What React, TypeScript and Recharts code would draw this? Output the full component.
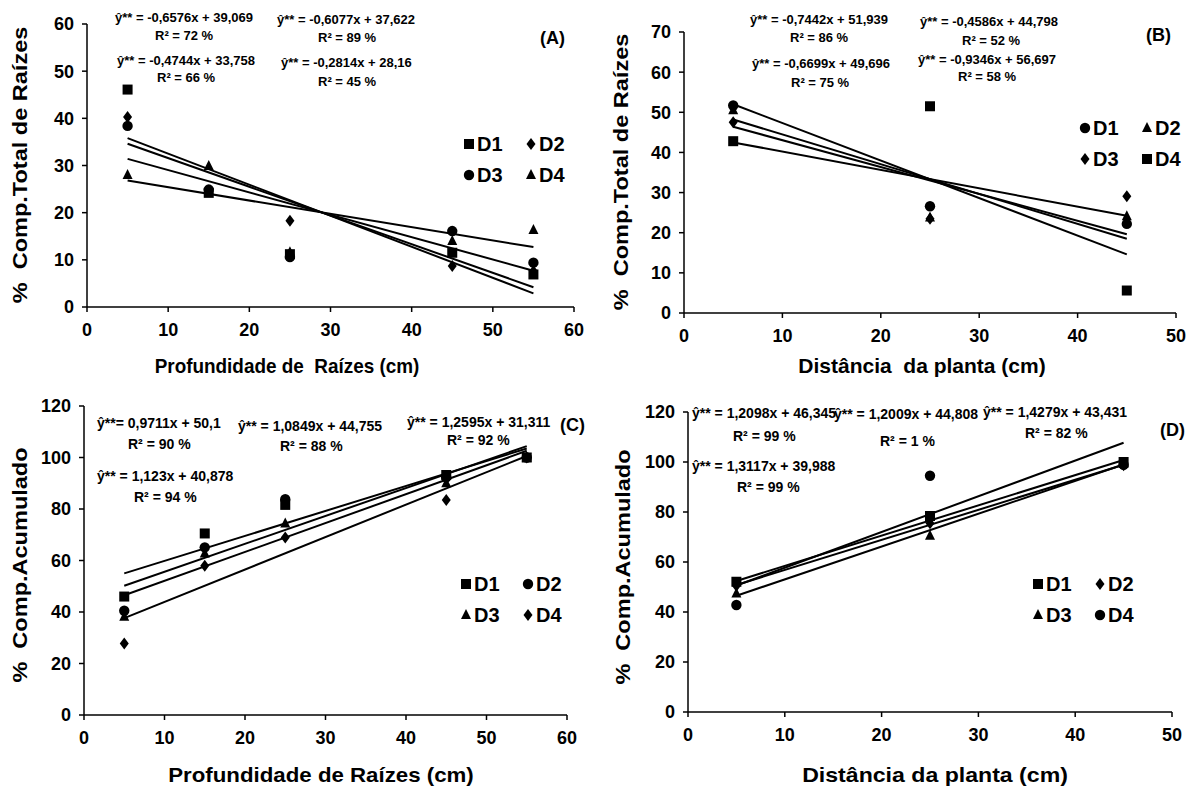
import React from 'react';
import { ScatterChart, Scatter, XAxis, YAxis, Legend } from 'recharts';

// fonts
const NARROW = "'Liberation Sans Narrow', 'Arial Narrow', 'Liberation Sans', Arial, sans-serif";
const WIDE = "'Liberation Sans', Arial, sans-serif";

// x values
const depthX = [5, 15, 25, 45, 55];
const distX = [5, 25, 45];

// (A) % comp. total x depth
const aD1 = [46.1, 24.2, 11.2, 11.5, 6.9];
const aD2 = [40.3, 24.6, 18.3, 8.7, 7.6];
const aD3 = [38.4, 24.9, 10.6, 16.1, 9.4];
const aD4 = [28.0, 29.9, 11.6, 14.0, 16.3];
const aTrendX = [5, 55];
const aTrends = [[35.8, 2.9], [34.6, 4.2], [31.4, 7.7], [26.8, 12.7]];

// (B) % comp. total x distance
const bD1 = [51.7, 26.6, 22.2];
const bD2 = [50.5, 23.8, 24.1];
const bD3 = [47.5, 23.5, 29.1];
const bD4 = [42.8, 51.5, 5.6];
const bTrendX = [5, 45];
const bTrends = [[52.0, 14.6], [48.2, 18.5], [46.4, 19.6], [42.5, 24.2]];

// (C) % accumulated x depth
const cD1 = [46.0, 70.5, 81.6, 93.2, 100];
const cD2 = [40.5, 65.1, 83.8, 92.3, 100];
const cD3 = [38.2, 62.7, 74.4, 90.0, 100];
const cD4 = [27.8, 58.0, 68.9, 83.5, 100];
const cTrendX = [5, 55];
const cTrends = [[55.0, 103.5], [50.2, 104.4], [46.5, 102.6], [37.6, 100.6]];

// (D) % accumulated x distance
const dD1 = [52.1, 78.4, 100];
const dD2 = [50.5, 75.5, 98.7];
const dD3 = [47.4, 70.5, 99.2];
const dD4 = [42.8, 94.5, 98.9];
const dTrendX = [5, 45];
const dTrends = [[52.4, 100.8], [50.8, 98.9], [50.6, 107.7], [46.5, 99.0]];

const ticks60 = [0, 10, 20, 30, 40, 50, 60];
const ticks50 = [0, 10, 20, 30, 40, 50];
const ticks70 = [0, 10, 20, 30, 40, 50, 60, 70];
const ticks120 = [0, 20, 40, 60, 80, 100, 120];

const toPoints = (xs: number[], ys: number[]) => xs.map((x, i) => ({ x, y: ys[i] }));

type Kind = 'square' | 'circle' | 'diamond' | 'triangle';

function Mark({ kind, cx, cy }: { kind: Kind; cx: number; cy: number }) {
  if (kind === 'square') return <rect x={cx - 5} y={cy - 5} width={10} height={10} fill="#000" />;
  if (kind === 'circle') return <circle cx={cx} cy={cy} r={5.2} fill="#000" />;
  if (kind === 'diamond')
    return <polygon points={`${cx},${cy - 6} ${cx + 4.5},${cy} ${cx},${cy + 6} ${cx - 4.5},${cy}`} fill="#000" />;
  return <polygon points={`${cx},${cy - 6} ${cx + 5},${cy + 4} ${cx - 5},${cy + 4}`} fill="#000" />;
}

const shapeOf = (kind: Kind) => (props: any) => <Mark kind={kind} cx={props.cx} cy={props.cy} />;
const NoShape = () => <g />;

function LegendBox(props: any) {
  const items = (props.payload || []).filter((p: any) => p.type !== 'none');
  return (
    <div style={{ display: 'grid', gridTemplateColumns: '62px 62px', rowGap: 9 }}>
      {items.map((p: any) => (
        <div key={p.value} style={{ display: 'flex', alignItems: 'center', fontFamily: NARROW, fontWeight: 700, fontSize: 20, lineHeight: '22px', color: '#000' }}>
          <svg width={12} height={14} style={{ marginRight: 2 }}>
            <Mark kind={p.type as Kind} cx={6} cy={7} />
          </svg>
          {p.value}
        </div>
      ))}
    </div>
  );
}

type PanelProps = {
  left: number; top: number; width: number; height: number;
  margin: { top: number; right: number; bottom: number; left: number };
  xTicks: number[]; yTicks: number[];
  xs: number[]; series: { name: string; kind: Kind; values: number[] }[];
  trendX: number[]; trends: number[][];
  legendPos: { left: number; top: number };
};

function Panel(p: PanelProps) {
  const tick = { fill: '#000', fontFamily: NARROW, fontWeight: 700, fontSize: 18 };
  return (
    <div style={{ position: 'absolute', left: p.left, top: p.top }}>
      <ScatterChart width={p.width} height={p.height} margin={p.margin}>
        <XAxis type="number" dataKey="x" domain={[p.xTicks[0], p.xTicks[p.xTicks.length - 1]]} ticks={p.xTicks}
          height={30} tick={tick} tickSize={5} tickMargin={11} stroke="#000" strokeWidth={1.5} interval={0} />
        <YAxis type="number" dataKey="y" domain={[p.yTicks[0], p.yTicks[p.yTicks.length - 1]]} ticks={p.yTicks}
          width={40} tick={tick} tickSize={5} tickMargin={8} stroke="#000" strokeWidth={1.5} interval={0} />
        {p.trends.map((t, i) => (
          <Scatter key={'t' + i} name={'trend' + i} data={toPoints(p.trendX, t)} legendType="none"
            line={{ stroke: '#000', strokeWidth: 2 }} shape={NoShape} isAnimationActive={false} />
        ))}
        {p.series.map((s) => (
          <Scatter key={s.name} name={s.name} data={toPoints(p.xs, s.values)} legendType={s.kind}
            fill="#000" shape={shapeOf(s.kind)} isAnimationActive={false} />
        ))}
        <Legend layout="horizontal" verticalAlign="middle" align="center" content={LegendBox}
          wrapperStyle={{ left: p.legendPos.left, top: p.legendPos.top, width: 130 }} />
      </ScatterChart>
    </div>
  );
}

function Txt({ x, y, size = 13, children, font = NARROW }: { x: number; y: number; size?: number; children: React.ReactNode; font?: string }) {
  return (
    <div style={{ position: 'absolute', left: x, top: y, fontFamily: font, fontWeight: 700, fontSize: size, lineHeight: 1, whiteSpace: 'nowrap', color: '#000' }}>
      {children}
    </div>
  );
}

function YTitle({ cx, cy, stretch, children }: { cx: number; cy: number; stretch: number; children: React.ReactNode }) {
  return (
    <div style={{ position: 'absolute', left: cx, top: cy, transform: `translate(-50%, -50%) rotate(-90deg) scaleX(${stretch})`, fontFamily: WIDE, fontWeight: 700, fontSize: 21, whiteSpace: 'nowrap', color: '#000' }}>
      {children}
    </div>
  );
}

function XTitle({ cx, cy, stretch, children }: { cx: number; cy: number; stretch: number; children: React.ReactNode }) {
  return (
    <div style={{ position: 'absolute', left: cx, top: cy, transform: `translate(-50%, -50%) scaleX(${stretch})`, fontFamily: NARROW, fontWeight: 700, fontSize: 21, whiteSpace: 'nowrap', color: '#000' }}>
      {children}
    </div>
  );
}

export default function App() {
  return (
    <div style={{ position: 'absolute', left: 0, top: 0, width: 1195, height: 792, background: '#fff', overflow: 'hidden' }}>
      <Panel left={0} top={0} width={600} height={390} margin={{ top: 24, right: 26, bottom: 53, left: 47 }}
        xTicks={ticks60} yTicks={ticks60} xs={depthX}
        series={[{ name: 'D1', kind: 'square', values: aD1 }, { name: 'D2', kind: 'diamond', values: aD2 },
          { name: 'D3', kind: 'circle', values: aD3 }, { name: 'D4', kind: 'triangle', values: aD4 }]}
        trendX={aTrendX} trends={aTrends} legendPos={{ left: 463, top: 133 }} />
      <Panel left={600} top={0} width={595} height={390} margin={{ top: 32, right: 19, bottom: 47, left: 44 }}
        xTicks={ticks50} yTicks={ticks70} xs={distX}
        series={[{ name: 'D1', kind: 'circle', values: bD1 }, { name: 'D2', kind: 'triangle', values: bD2 },
          { name: 'D3', kind: 'diamond', values: bD3 }, { name: 'D4', kind: 'square', values: bD4 }]}
        trendX={bTrendX} trends={bTrends} legendPos={{ left: 479, top: 117 }} />
      <Panel left={0} top={390} width={600} height={402} margin={{ top: 16, right: 33, bottom: 47, left: 44 }}
        xTicks={ticks60} yTicks={ticks120} xs={depthX}
        series={[{ name: 'D1', kind: 'square', values: cD1 }, { name: 'D2', kind: 'circle', values: cD2 },
          { name: 'D3', kind: 'triangle', values: cD3 }, { name: 'D4', kind: 'diamond', values: cD4 }]}
        trendX={cTrendX} trends={cTrends} legendPos={{ left: 460, top: 183 }} />
      <Panel left={600} top={390} width={595} height={402} margin={{ top: 22, right: 23, bottom: 50, left: 48 }}
        xTicks={ticks50} yTicks={ticks120} xs={distX}
        series={[{ name: 'D1', kind: 'square', values: dD1 }, { name: 'D2', kind: 'diamond', values: dD2 },
          { name: 'D3', kind: 'triangle', values: dD3 }, { name: 'D4', kind: 'circle', values: dD4 }]}
        trendX={dTrendX} trends={dTrends} legendPos={{ left: 432, top: 183 }} />

      {/* equations A */}
      <Txt x={115} y={11}>ŷ** = -0,6576x + 39,069</Txt>
      <Txt x={155} y={29}>R² = 72 %</Txt>
      <Txt x={117} y={54}>ŷ** = -0,4744x + 33,758</Txt>
      <Txt x={157} y={71}>R² = 66 %</Txt>
      <Txt x={277} y={13}>ŷ** = -0,6077x + 37,622</Txt>
      <Txt x={318} y={31}>R² = 89 %</Txt>
      <Txt x={281} y={56}>ŷ** = -0,2814x + 28,16</Txt>
      <Txt x={318} y={75}>R² = 45 %</Txt>
      <Txt x={540} y={29} size={18}>(A)</Txt>

      {/* equations B */}
      <Txt x={750} y={13}>ŷ** = -0,7442x + 51,939</Txt>
      <Txt x={790} y={31}>R² = 86 %</Txt>
      <Txt x={752} y={57}>ŷ** = -0,6699x + 49,696</Txt>
      <Txt x={791} y={76}>R² = 75 %</Txt>
      <Txt x={920} y={15}>ŷ** = -0,4586x + 44,798</Txt>
      <Txt x={962} y={34}>R² = 52 %</Txt>
      <Txt x={918} y={53}>ŷ** = -0,9346x + 56,697</Txt>
      <Txt x={958} y={70}>R² = 58 %</Txt>
      <Txt x={1146} y={26} size={18}>(B)</Txt>

      {/* equations C */}
      <Txt x={97} y={416} size={14}>ŷ**= 0,9711x + 50,1</Txt>
      <Txt x={128} y={437} size={14}>R² =  90 %</Txt>
      <Txt x={97} y={469} size={14}>ŷ** = 1,123x + 40,878</Txt>
      <Txt x={134} y={490} size={14}>R² = 94 %</Txt>
      <Txt x={238} y={419} size={14}>ŷ** = 1,0849x + 44,755</Txt>
      <Txt x={280} y={439} size={14}>R² = 88 %</Txt>
      <Txt x={407} y={415} size={14}>ŷ** = 1,2595x + 31,311</Txt>
      <Txt x={447} y={433} size={14}>R² =  92 %</Txt>
      <Txt x={560} y={416} size={18}>(C)</Txt>

      {/* equations D */}
      <Txt x={692} y={406} size={14}>ŷ** = 1,2098x + 46,345</Txt>
      <Txt x={733} y={429} size={14}>R² =  99 %</Txt>
      <Txt x={834} y={407} size={14}>ŷ** = 1,2009x + 44,808</Txt>
      <Txt x={880} y={434} size={14}>R² = 1 %</Txt>
      <Txt x={983} y={405} size={14}>ŷ** = 1,4279x + 43,431</Txt>
      <Txt x={1025} y={426} size={14}>R² = 82 %</Txt>
      <Txt x={692} y={459} size={14}>ŷ** = 1,3117x + 39,988</Txt>
      <Txt x={737} y={480} size={14}>R² = 99 %</Txt>
      <Txt x={1160} y={421} size={18}>(D)</Txt>

      {/* axis titles */}
      <YTitle cx={20} cy={165} stretch={1.12}>%&nbsp; Comp.Total de Raízes</YTitle>
      <YTitle cx={621} cy={172} stretch={1.12}>%&nbsp; Comp.Total de Raízes</YTitle>
      <YTitle cx={20} cy={565} stretch={1.12}>%&nbsp; Comp.Acumulado</YTitle>
      <YTitle cx={623} cy={567} stretch={1.12}>%&nbsp; Comp.Acumulado</YTitle>
      <XTitle cx={287} cy={366} stretch={0.9}>Profundidade de&nbsp; Raízes (cm)</XTitle>
      <XTitle cx={922} cy={366} stretch={1}>Distância&nbsp; da planta (cm)</XTitle>
      <XTitle cx={321} cy={775} stretch={1.06}>Profundidade de Raízes (cm)</XTitle>
      <XTitle cx={935} cy={775} stretch={1.1}>Distância da planta (cm)</XTitle>
    </div>
  );
}
